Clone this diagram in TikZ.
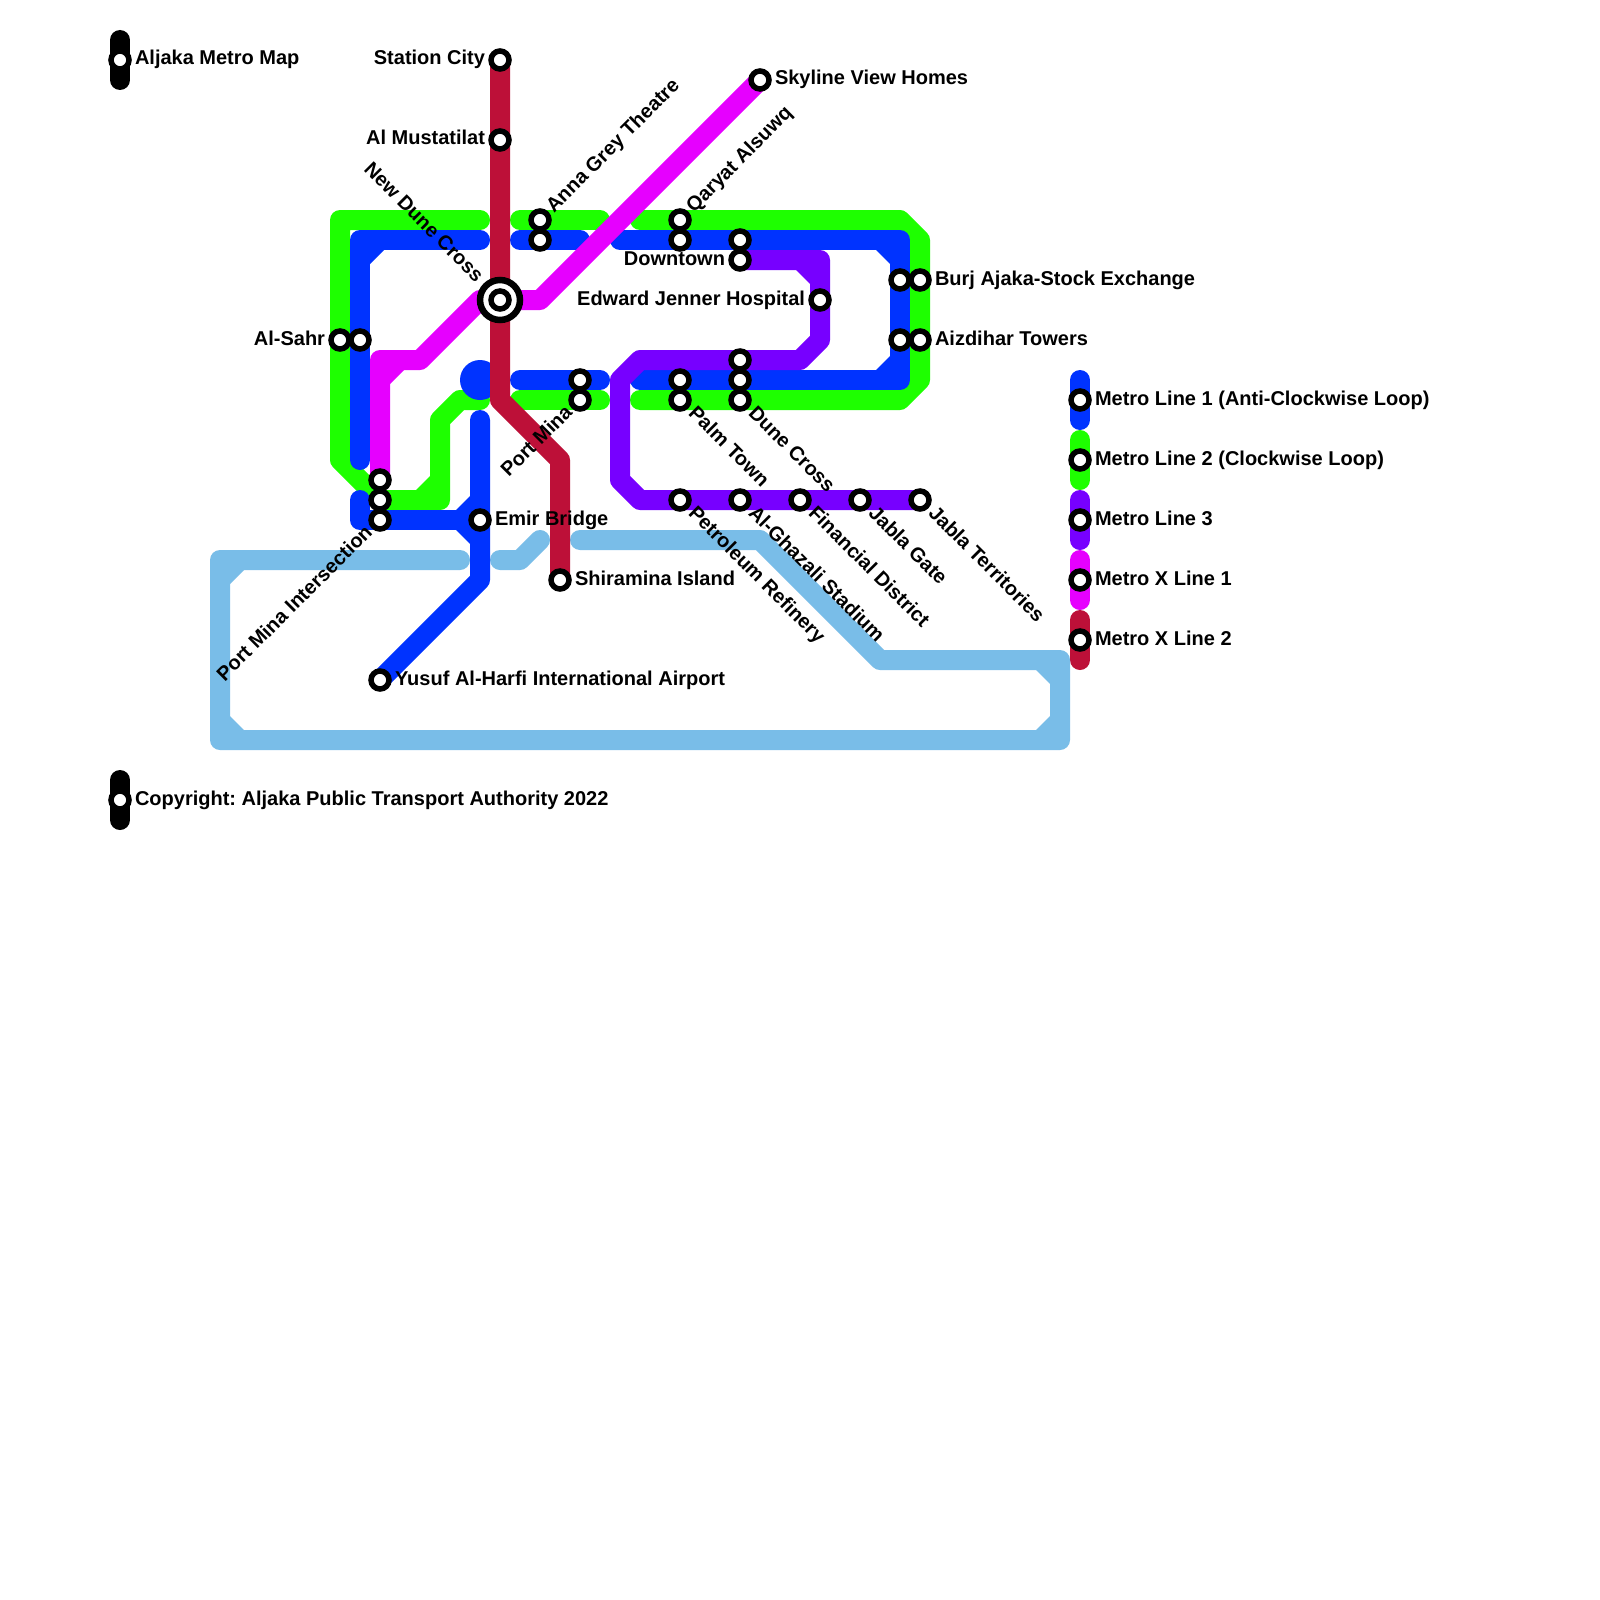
\documentclass[tikz,border=0pt]{standalone}
\usepackage{fontspec}
\setmainfont{Liberation Sans}
\frenchspacing
\definecolor{mblue}{HTML}{0033FF}
\definecolor{mgreen}{HTML}{1EFF00}
\definecolor{mpurple}{HTML}{7700FF}
\definecolor{mmag}{HTML}{E600FF}
\definecolor{mred}{HTML}{BD1038}
\definecolor{msky}{HTML}{79BDE8}
\pgfdeclarelayer{lines}
\pgfsetlayers{lines,main}
\tikzset{
 metro/.style={line width=20pt,line cap=round,line join=round},
 stn/.style={circle,draw=black,fill=white,line width=5.5pt,minimum size=18pt,inner sep=0pt,outer sep=0pt},
 ringout/.style={circle,draw=black,fill=white,line width=6.5pt,minimum size=40pt,inner sep=0pt,outer sep=0pt},
 lbl/.style={font=\fontsize{20}{24}\selectfont\bfseries,inner sep=0pt,outer sep=0pt,text=black}
}
% inner-corner chamfer: colour, vertex x, y, direction to the inside
\newcommand\cham[5]{\fill[#1] (#2,#3) -- ({#2+#4*24},{#3+#5*10}) -- ({#2+#4*10},{#3+#5*24}) -- cycle;}
\newcommand\st[3]{\node[stn] (#1) at (#2,#3) {};}
\newcommand\lE[2]{\node[lbl,anchor=base west] (#1-l) at ([shift={(15,5)}]#1.center) {#2};}
\newcommand\lW[2]{\node[lbl,anchor=base east] (#1-l) at ([shift={(-15,5)}]#1.center) {#2};}
\newcommand\lNE[2]{\node[lbl,rotate=45,anchor=base west] (#1-l) at ([shift={(14,-6.7)}]#1.center) {#2};}
\newcommand\lSE[2]{\node[lbl,rotate=-45,anchor=base west] (#1-l) at ([shift={(7.6,14.3)}]#1.center) {#2};}
\newcommand\lSW[2]{\node[lbl,rotate=45,anchor=base east] (#1-l) at ([shift={(-6.7,13.5)}]#1.center) {#2};}
\newcommand\lNWfar[2]{\node[lbl,rotate=-45,anchor=base east] (#1-l) at ([shift={(-24.5,-17)}]#1.center) {#2};}
\begin{document}
\begin{tikzpicture}[x=1pt,y=-1pt]
\useasboundingbox (0,0) rectangle (1600,1600);
% stations
\st{kt}{120}{60} \st{kc}{120}{800}
\st{city}{500}{60} \st{must}{500}{140}
\node[ringout] (ndc) at (500,300) {};
\st{ndcin}{500}{300}
\st{anna}{540}{220} \st{annab}{540}{240}
\st{qary}{680}{220} \st{qaryb}{680}{240}
\st{downa}{740}{240} \st{down}{740}{260}
\st{edw}{820}{300}
\st{burjb}{900}{280} \st{burj}{920}{280}
\st{aizb}{900}{340} \st{aiz}{920}{340}
\st{sahr}{340}{340} \st{sahrb}{360}{340}
\st{pmia}{380}{480} \st{pmib}{380}{500} \st{pmi}{380}{520}
\st{emir}{480}{520}
\st{pma}{580}{380} \st{pm}{580}{400}
\st{palma}{680}{380} \st{palm}{680}{400}
\st{dunea}{740}{360} \st{duneb}{740}{380} \st{dune}{740}{400}
\st{petr}{680}{500} \st{ghaz}{740}{500} \st{fin}{800}{500} \st{jgate}{860}{500} \st{jterr}{920}{500}
\st{shir}{560}{580} \st{yus}{380}{680} \st{sky}{760}{80}
\st{k1}{1080}{400} \st{k2}{1080}{460} \st{k3}{1080}{520} \st{k4}{1080}{580} \st{k5}{1080}{640}
% labels
\lE{kt}{Aljaka Metro Map}
\lE{kc}{Copyright: Aljaka Public Transport Authority 2022}
\lW{city}{Station City}
\lW{must}{Al Mustatilat}
\lNWfar{ndc}{New Dune Cross}
\lNE{anna}{Anna Grey Theatre}
\lNE{qary}{Qaryat Alsuwq}
\lE{sky}{Skyline View Homes}
\lW{down}{Downtown}
\lW{edw}{Edward Jenner Hospital}
\lE{burj}{Burj Ajaka-Stock Exchange}
\lE{aiz}{Aizdihar Towers}
\lW{sahr}{Al-Sahr}
\lSW{pm}{Port Mina}
\lSE{palm}{Palm Town}
\lSE{dune}{Dune Cross}
\lSE{petr}{Petroleum Refinery}
\lSE{ghaz}{Al-Ghazali Stadium}
\lSE{fin}{Financial District}
\lSE{jgate}{Jabla Gate}
\lSE{jterr}{Jabla Territories}
\lE{emir}{Emir Bridge}
\lE{shir}{Shiramina Island}
\lE{yus}{Yusuf Al-Harfi International Airport}
\lSW{pmi}{Port Mina Intersection}
\lE{k1}{Metro Line 1 (Anti-Clockwise Loop)}
\lE{k2}{Metro Line 2 (Clockwise Loop)}
\lE{k3}{Metro Line 3}
\lE{k4}{Metro X Line 1}
\lE{k5}{Metro X Line 2}
\begin{pgfonlayer}{lines}
\fill[white] (0,0) rectangle (1600,1600);
% key
\draw[metro,black] ([shift={(0,-20)}]kt.center) -- ([shift={(0,20)}]kt.center);
\draw[metro,black] ([shift={(0,-20)}]kc.center) -- ([shift={(0,20)}]kc.center);
\draw[metro,mblue] ([shift={(0,-20)}]k1.center) -- ([shift={(0,20)}]k1.center);
\draw[metro,mgreen] ([shift={(0,-20)}]k2.center) -- ([shift={(0,20)}]k2.center);
\draw[metro,mpurple] ([shift={(0,-20)}]k3.center) -- ([shift={(0,20)}]k3.center);
\draw[metro,mmag] ([shift={(0,-20)}]k4.center) -- ([shift={(0,20)}]k4.center);
\draw[metro,mred] ([shift={(0,-20)}]k5.center) -- ([shift={(0,20)}]k5.center);
% sky
\draw[metro,msky] (580,540) -- (760,540) -- (880,660) -- (1060,660) -- (1060,740) -- (220,740) -- (220,560) -- (460,560);
\cham{msky}{1060}{660}{-1}{1} \cham{msky}{1060}{740}{-1}{-1} \cham{msky}{220}{740}{1}{-1} \cham{msky}{220}{560}{1}{1}
\draw[metro,msky] (500,560) -- (520,560) -- (540,540);
% green
\draw[metro,mgreen] (480,220) -- (340,220) -- (sahr.center) -- (340,460) -- (380,500) -- (440,500) -- (440,420) -- (460,400) -- (480,400);
\cham{mgreen}{440}{500}{-1}{-1}
\draw[metro,mgreen] (520,220) -- (anna.center) -- (600,220);
\draw[metro,mgreen] (520,400) -- (pm.center) -- (600,400);
\draw[metro,mgreen] (640,220) -- (qary.center) -- (900,220) -- (920,240) -- (burj.center) -- (aiz.center) -- (920,380) -- (900,400) -- (dune.center) -- (palm.center) -- (640,400);
% blue
\draw[metro,mblue] (480,240) -- (360,240) -- (sahrb.center) -- (360,460);
\cham{mblue}{360}{240}{1}{1}
\draw[metro,mblue] (520,240) -- (annab.center) -- (580,240);
\draw[metro,mblue] (620,240) -- (qaryb.center) -- (downa.center) -- (900,240) -- (burjb.center) -- (aizb.center) -- (900,380) -- (duneb.center) -- (palma.center) -- (640,380);
\cham{mblue}{900}{240}{-1}{1} \cham{mblue}{900}{380}{-1}{-1}
\draw[metro,mblue] (520,380) -- (pma.center) -- (600,380);
\draw[metro,mblue] (360,500) -- (360,520) -- (pmi.center) -- (emir.center);
\draw[metro,mblue] (480,420) -- (emir.center) -- (480,580) -- (yus.center);
\cham{mblue}{480}{520}{-1}{-1} \cham{mblue}{480}{520}{-1}{1}
\fill[mblue] (480,380) circle[radius=20];
% purple
\draw[metro,mpurple] (down.center) -- (820,260) -- (edw.center) -- (820,340) -- (800,360) -- (dunea.center) -- (640,360) -- (620,380) -- (620,480) -- (640,500) -- (petr.center) -- (ghaz.center) -- (fin.center) -- (jgate.center) -- (jterr.center);
\cham{mpurple}{820}{260}{-1}{1}
% magenta
\draw[metro,mmag] (pmia.center) -- (380,360) -- (420,360) -- (480,300) -- (ndc.center) -- (540,300) -- (sky.center);
\cham{mmag}{380}{360}{1}{1}
% red
\draw[metro,mred] (city.center) -- (must.center) -- (ndc.center) -- (500,400) -- (560,460) -- (shir.center);
\end{pgfonlayer}
\end{tikzpicture}
\end{document}
